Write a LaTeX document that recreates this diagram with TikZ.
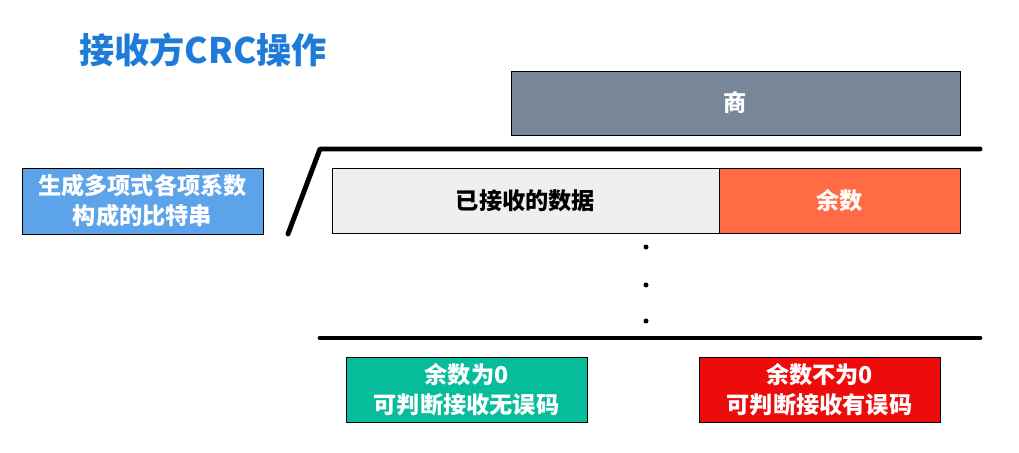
\documentclass[tikz,border=0pt]{standalone}
\usepackage{fontspec}
\setmainfont{Noto Sans CJK SC}
\usepackage{tikz}

\definecolor{titleblue}{HTML}{1E7BD8}
\definecolor{quotgray}{HTML}{778797}
\definecolor{datagray}{HTML}{EFEFEF}
\definecolor{remorange}{HTML}{FF6B45}
\definecolor{polyblue}{HTML}{5CA3EA}
\definecolor{okgreen}{HTML}{07BC9A}
\definecolor{errred}{HTML}{EE0B0B}

\tikzset{
  box/.style={draw=black, line width=0.6pt, minimum height=1.625cm, align=center,
    font=\fontsize{16.5}{21.5}\selectfont\bfseries, text=white, inner sep=0pt},
  bar/.style={line width=3.5pt, line cap=round, line join=round}
}

\begin{document}
\begin{tikzpicture}[x=0.025cm, y=-0.025cm]
\useasboundingbox (0,0) rectangle (1019,453);

% Title
\node[text=titleblue, font=\fontsize{25}{30}\selectfont\bfseries] (title) at (203,50) {接收方CRC操作};

% Boxes
\node[box, fill=quotgray, minimum width=11.225cm, minimum height=1.6cm] (quot) at (735.5,103) {商};
\node[box, fill=polyblue, minimum width=6.025cm, minimum height=1.65cm] (poly) at (142.5,201) {生成多项式各项系数\\构成的比特串};
\node[box, fill=datagray, text=black, minimum width=9.675cm] (data) at (525.5,200.5) {已接收的数据};
\node[box, fill=remorange, minimum width=6.025cm] (rem) at (839.5,200.5) {余数};
\node[box, fill=okgreen, minimum width=6.025cm] (ok) at (466.5,389.5) {余数为0\\可判断接收无误码};
\node[box, fill=errred, minimum width=6.025cm] (err) at (819.5,389.5) {余数不为0\\可判断接收有误码};

% Division lines
\draw[bar] (288,234) -- (320,149) -- (980,149);
\draw[bar] (320,338) -- (980,338);

% Dots
\foreach \y in {247,285,321}
  \fill (646,\y) circle (2.5);
\end{tikzpicture}
\end{document}
